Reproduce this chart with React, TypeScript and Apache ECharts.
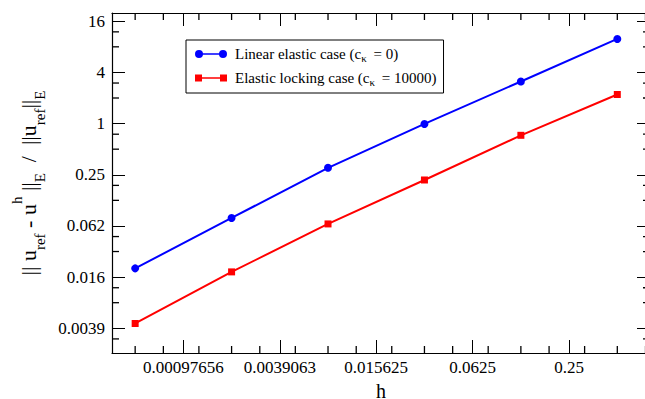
import React, { useEffect, useRef } from 'react';
import * as echarts from 'echarts';

// mesh size h (x values)
const hValues = [0.00048828125, 0.001953125, 0.0078125, 0.03125, 0.125, 0.5];
// relative energy-norm errors
const linearElastic = [0.0198, 0.0776, 0.302, 0.99, 3.13, 9.9];
const elasticLocking = [0.00445, 0.018, 0.066, 0.217, 0.728, 2.2];
const seriesNames = ['Linear elastic case (cκ = 0)', 'Elastic locking case (cκ = 10000)'];
// tick labels for powers of 4
const xTickLabels = ['0.00097656', '0.0039063', '0.015625', '0.0625', '0.25']; // 4^-5 .. 4^-1
const yTickLabels = ['0.0039', '0.016', '0.062', '0.25', '1', '4', '16']; // 4^-4 .. 4^2
// minor tick positions
const xMinorTicks = [0.00048828, 0.00073242, 0.0012207, 0.0019531, 0.0029297, 0.0048828, 0.0078125, 0.0117188,
  0.0195313, 0.03125, 0.046875, 0.078125, 0.125, 0.1875, 0.3125, 0.5, 0.75];
const yMinorTicks = [0.0029297, 0.0078125, 0.0117188, 0.03125, 0.046875, 0.125, 0.1875, 0.5, 0.75, 2, 3, 8, 12];
const xMin = 0.00035, xMax = 0.8, yMin = 0.002, yMax = 20;

const FONT = 'Liberation Serif';

const label = (arr: string[], offset: number) => (v: number) => {
  const e = Math.log(v) / Math.log(4);
  const r = Math.round(e);
  if (Math.abs(e - r) > 1e-6) return '';
  return arr[r + offset] ?? '';
};

const tickCommon = {
  axisLine: { show: true, onZero: false, lineStyle: { color: '#000', width: 1.2 } },
  axisTick: { show: true, inside: true, length: 13, lineStyle: { color: '#000', width: 1 } },
  minorTick: { show: false },
  splitLine: { show: false },
  minorSplitLine: { show: false },
};

export default function App() {
  const ref = useRef<HTMLDivElement>(null);
  useEffect(() => {
    if (!ref.current) return;
    const chart = echarts.init(ref.current, undefined, { renderer: 'svg' });
    const iconCircle = 'path://M0,4 A4,4 0 1,1 8,4 A4,4 0 1,1 0,4 Z M24,4 A4,4 0 1,1 32,4 A4,4 0 1,1 24,4 Z M4,3.2 L28,3.2 L28,4.8 L4,4.8 Z';
    const iconSquare = 'path://M0,0.5 L7,0.5 L7,7.5 L0,7.5 Z M25,0.5 L32,0.5 L32,7.5 L25,7.5 Z M3.5,3.2 L28.5,3.2 L28.5,4.8 L3.5,4.8 Z M0,0 L0.01,0 L0.01,8 L0,8 Z';
    const xAxisBase = { type: 'log', logBase: 4, min: xMin, max: xMax, ...tickCommon };
    const yAxisBase = { type: 'log', logBase: 4, min: yMin, max: yMax, ...tickCommon };
    chart.setOption({
      animation: false,
      backgroundColor: '#fff',
      grid: { left: 112, top: 13, right: -5, bottom: 46, outerBoundsMode: 'none' },
      legend: {
        left: 186,
        top: 40,
        orient: 'vertical',
        borderColor: '#000',
        borderWidth: 1,
        borderRadius: 0,
        padding: [5, 7, 6, 9],
        itemGap: 6,
        itemWidth: 32,
        itemHeight: 8,
        selectedMode: false,
        data: [
          { name: seriesNames[0], icon: iconCircle },
          { name: seriesNames[1], icon: iconSquare },
        ],
        formatter: (name: string) => {
          const [a, b] = name.split('κ');
          return `{a|${a}}{s|κ}{a|${b}}`;
        },
        textStyle: {
          color: '#000',
          fontFamily: FONT,
          fontSize: 15,
          lineHeight: 18,
          rich: {
            a: { fontFamily: FONT, fontSize: 15, lineHeight: 18, color: '#000', padding: [0, 0, 0, 3] },
            s: { fontFamily: FONT, fontSize: 11, lineHeight: 11, verticalAlign: 'bottom', color: '#000' },
          },
        },
      },
      xAxis: [
        {
          ...xAxisBase,
          position: 'bottom',
          name: 'h',
          nameLocation: 'middle',
          nameGap: 17,
          nameTextStyle: { fontFamily: FONT, fontSize: 20, lineHeight: 20, color: '#000' },
          axisLabel: {
            show: true, margin: 6, color: '#000', fontFamily: FONT, fontSize: 17,
            showMinLabel: false, showMaxLabel: false, hideOverlap: false,
            formatter: label(xTickLabels, 5),
          },
        },
        { ...xAxisBase, position: 'top', axisLabel: { show: false } },
      ],
      yAxis: [
        {
          ...yAxisBase,
          position: 'left',
          name: '{m||| u}{s|ref}{m| - u}{p|h}{m| ||}{s|E}{m|  /  ||u}{s|ref}{m|||}{s|E}',
          nameLocation: 'middle',
          nameRotate: 90,
          nameGap: 64,
          nameTextStyle: {
            fontFamily: FONT,
            color: '#000',
            rich: {
              m: { fontFamily: FONT, fontSize: 22, lineHeight: 38, color: '#000' },
              s: { fontFamily: FONT, fontSize: 15, lineHeight: 15, verticalAlign: 'bottom', color: '#000' },
              p: { fontFamily: FONT, fontSize: 15, lineHeight: 15, verticalAlign: 'top', color: '#000' },
            },
          },
          axisLabel: {
            show: true, margin: 7, color: '#000', fontFamily: FONT, fontSize: 17,
            showMinLabel: false, showMaxLabel: false, hideOverlap: false,
            formatter: label(yTickLabels, 4),
          },
        },
        { ...yAxisBase, position: 'right', axisLabel: { show: false } },
      ],
      series: [
        {
          name: seriesNames[0],
          type: 'line',
          data: hValues.map((h, i) => [h, linearElastic[i]]),
          symbol: 'circle',
          symbolSize: 8,
          color: '#0000ff',
          lineStyle: { color: '#0000ff', width: 2 },
          itemStyle: { color: '#0000ff' },
          z: 3,
        },
        {
          name: seriesNames[1],
          type: 'line',
          data: hValues.map((h, i) => [h, elasticLocking[i]]),
          symbol: 'rect',
          symbolSize: 7,
          color: '#ff0000',
          lineStyle: { color: '#ff0000', width: 2 },
          itemStyle: { color: '#ff0000' },
          z: 3,
        },
      ],
    });

    // minor ticks placed through the axes' own scales
    const yBot = chart.convertToPixel({ yAxisIndex: 0 }, yMin) as number;
    const yTop = chart.convertToPixel({ yAxisIndex: 0 }, yMax) as number;
    const xLeft = chart.convertToPixel({ xAxisIndex: 0 }, xMin) as number;
    const xRight = chart.convertToPixel({ xAxisIndex: 0 }, xMax) as number;
    const st = { stroke: '#000', lineWidth: 1.3 };
    const elements: any[] = [];
    xMinorTicks.forEach((v) => {
      const px = chart.convertToPixel({ xAxisIndex: 0 }, v) as number;
      elements.push({ type: 'line', silent: true, z: 10, shape: { x1: px, y1: yBot, x2: px, y2: yBot - 7 }, style: st });
      elements.push({ type: 'line', silent: true, z: 10, shape: { x1: px, y1: yTop, x2: px, y2: yTop + 7 }, style: st });
    });
    yMinorTicks.forEach((v) => {
      const py = chart.convertToPixel({ yAxisIndex: 0 }, v) as number;
      elements.push({ type: 'line', silent: true, z: 10, shape: { x1: xLeft, y1: py, x2: xLeft + 7, y2: py }, style: st });
      elements.push({ type: 'line', silent: true, z: 10, shape: { x1: xRight, y1: py, x2: xRight - 7, y2: py }, style: st });
    });
    chart.setOption({ graphic: { elements } });
    return () => chart.dispose();
  }, []);
  return (
    <div style={{ position: 'fixed', left: 0, top: 0, width: 645, height: 399, overflow: 'hidden', background: '#fff' }}>
      <div ref={ref} style={{ width: 645, height: 399 }} />
    </div>
  );
}
